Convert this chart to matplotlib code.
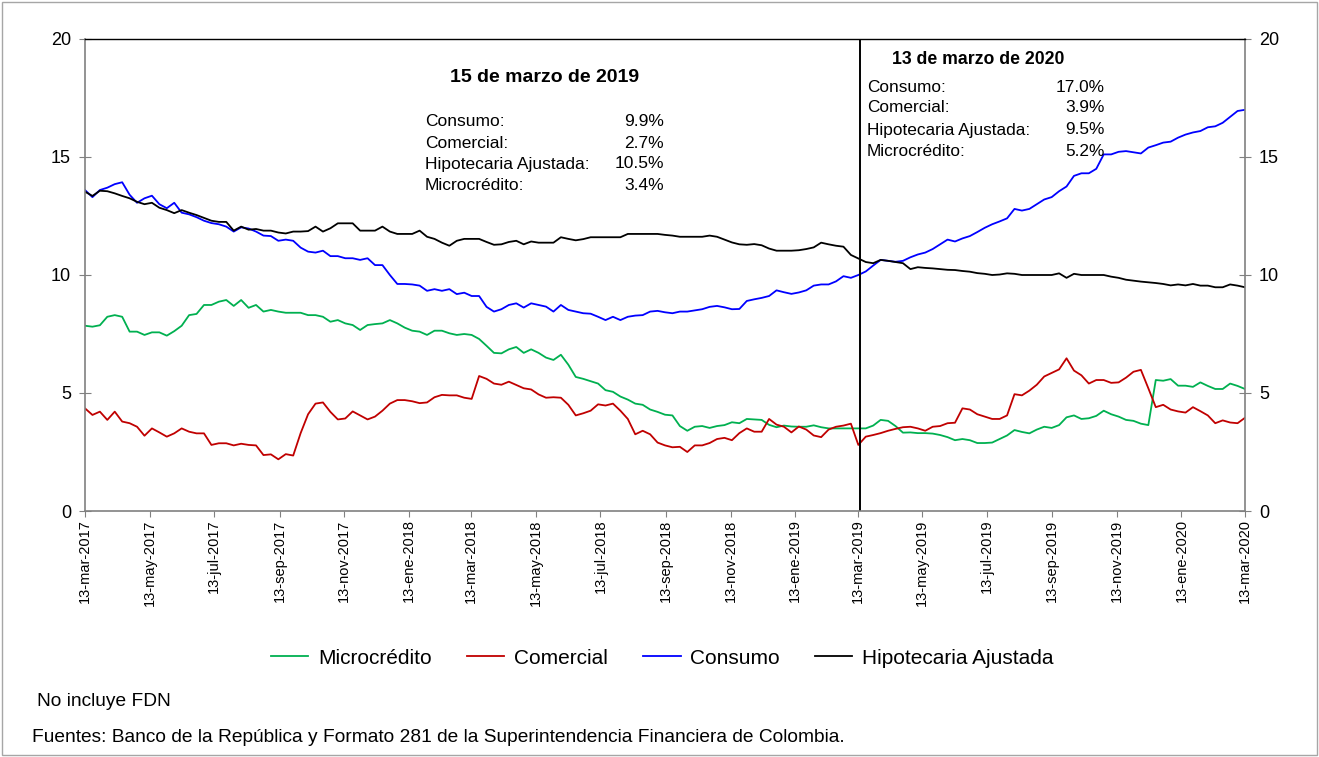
import matplotlib
matplotlib.use("Agg")
import matplotlib.pyplot as plt
from matplotlib.patches import Rectangle
import pandas as pd

plt.rcParams['font.family'] = ['Liberation Sans', 'DejaVu Sans']

# ---------------- data (weekly, 13-mar-2017 .. 13-mar-2020) ----------------
start_date = "2017-03-13"
end_date = "2020-03-13"
n_points = 157

hipotecaria = [
    13.53, 13.35, 13.57, 13.55, 13.46, 13.35, 13.25, 13.1, 13.0, 13.06, 12.85, 12.75, 12.62, 12.75,
    12.64, 12.54, 12.42, 12.3, 12.25, 12.25, 11.88, 12.05, 11.92, 11.95, 11.88, 11.88, 11.8, 11.76,
    11.84, 11.84, 11.86, 12.05, 11.84, 11.98, 12.19, 12.19, 12.19, 11.88, 11.88, 11.88, 12.05, 11.84,
    11.74, 11.74, 11.74, 11.88, 11.62, 11.53, 11.37, 11.24, 11.45, 11.53, 11.53, 11.53,
    11.4, 11.28, 11.3, 11.4, 11.45, 11.3, 11.42, 11.37, 11.37, 11.37, 11.6, 11.53, 11.47, 11.52,
    11.6, 11.6, 11.6, 11.6, 11.6, 11.74, 11.74, 11.74, 11.74, 11.74, 11.7, 11.67,
    11.62, 11.62, 11.62, 11.62, 11.67, 11.62, 11.5, 11.38, 11.3, 11.28, 11.31, 11.26, 11.12, 11.03,
    11.03, 11.03, 11.05, 11.1, 11.17, 11.37, 11.3, 11.24, 11.2, 10.85, 10.7, 10.55, 10.5,
    10.64, 10.6, 10.55, 10.5, 10.25, 10.33, 10.3, 10.28, 10.25, 10.22, 10.21, 10.17, 10.14, 10.08,
    10.05, 10.0, 10.02, 10.07, 10.05, 10.0, 10.0, 10.0, 10.0, 10.0,
    10.07, 9.88, 10.05, 10.0, 10.0, 10.0, 10.0, 9.93, 9.88, 9.8, 9.76, 9.72, 9.69, 9.66,
    9.62, 9.56, 9.6, 9.56, 9.62, 9.55, 9.55, 9.48, 9.48, 9.6, 9.55, 9.48,
]

consumo = [
    13.6, 13.3, 13.6, 13.7, 13.85, 13.93, 13.4, 13.06, 13.25, 13.36, 13.0, 12.83, 13.06, 12.64,
    12.57, 12.45, 12.3, 12.2, 12.15, 12.05, 11.84, 12.02, 11.97, 11.84, 11.67, 11.65, 11.45, 11.5,
    11.45, 11.16, 10.99, 10.95, 11.03, 10.8, 10.8, 10.71, 10.71, 10.64, 10.71, 10.42, 10.42, 10.0,
    9.62, 9.62, 9.6, 9.55, 9.33, 9.4, 9.33, 9.4, 9.19, 9.25, 9.11, 9.11,
    8.65, 8.45, 8.55, 8.73, 8.8, 8.62, 8.8, 8.73, 8.66, 8.45, 8.73, 8.52, 8.45, 8.38,
    8.36, 8.23, 8.09, 8.23, 8.09, 8.23, 8.28, 8.3, 8.45, 8.48, 8.42, 8.38,
    8.45, 8.45, 8.5, 8.55, 8.65, 8.69, 8.63, 8.55, 8.56, 8.9, 8.97, 9.03, 9.11, 9.35,
    9.27, 9.2, 9.26, 9.35, 9.55, 9.6, 9.6, 9.73, 9.95, 9.88, 10.0, 10.15, 10.4,
    10.64, 10.6, 10.56, 10.6, 10.75, 10.87, 10.95, 11.1, 11.3, 11.5, 11.42, 11.55, 11.65, 11.82,
    12.0, 12.15, 12.27, 12.4, 12.8, 12.73, 12.8, 13.0, 13.2, 13.3,
    13.55, 13.75, 14.2, 14.31, 14.31, 14.5, 15.11, 15.11, 15.22, 15.25, 15.2, 15.15, 15.4, 15.5,
    15.61, 15.65, 15.82, 15.95, 16.04, 16.1, 16.26, 16.3, 16.45, 16.7, 16.95, 17.0,
]

microcredito = [
    7.85, 7.81, 7.87, 8.23, 8.3, 8.23, 7.6, 7.6, 7.46, 7.57, 7.57, 7.43, 7.62, 7.85,
    8.3, 8.35, 8.73, 8.73, 8.87, 8.94, 8.69, 8.94, 8.61, 8.73, 8.45, 8.52, 8.45, 8.4,
    8.4, 8.4, 8.3, 8.3, 8.23, 8.02, 8.09, 7.95, 7.88, 7.67, 7.88, 7.92, 7.95, 8.09,
    7.95, 7.77, 7.64, 7.6, 7.46, 7.64, 7.64, 7.53, 7.46, 7.5, 7.46, 7.29,
    7.0, 6.7, 6.68, 6.85, 6.95, 6.7, 6.85, 6.7, 6.5, 6.4, 6.62, 6.2, 5.68, 5.6,
    5.5, 5.4, 5.12, 5.05, 4.85, 4.72, 4.55, 4.5, 4.3, 4.2, 4.08, 4.05,
    3.6, 3.4, 3.57, 3.6, 3.52, 3.6, 3.64, 3.76, 3.72, 3.9, 3.88, 3.86, 3.65, 3.55,
    3.62, 3.58, 3.57, 3.57, 3.63, 3.55, 3.5, 3.5, 3.5, 3.5, 3.5, 3.5, 3.62,
    3.86, 3.82, 3.6, 3.32, 3.33, 3.3, 3.3, 3.28, 3.22, 3.13, 3.0, 3.05, 3.0, 2.88,
    2.88, 2.9, 3.05, 3.2, 3.43, 3.35, 3.29, 3.45, 3.57, 3.52,
    3.64, 3.97, 4.05, 3.9, 3.93, 4.03, 4.25, 4.1, 4.0, 3.86, 3.82, 3.7, 3.64, 5.55,
    5.52, 5.59, 5.31, 5.31, 5.26, 5.45, 5.3, 5.17, 5.17, 5.4, 5.3, 5.17,
]

comercial = [
    4.35, 4.07, 4.21, 3.86, 4.21, 3.79, 3.72, 3.57, 3.19, 3.5, 3.33, 3.15, 3.29, 3.5,
    3.36, 3.29, 3.29, 2.8, 2.87, 2.87, 2.78, 2.85, 2.8, 2.78, 2.37, 2.4, 2.19, 2.41,
    2.35, 3.3, 4.1, 4.55, 4.6, 4.2, 3.88, 3.92, 4.22, 4.05, 3.88, 4.0, 4.25, 4.55,
    4.7, 4.7, 4.65, 4.57, 4.6, 4.82, 4.92, 4.9, 4.9, 4.8, 4.75, 5.72,
    5.6, 5.4, 5.35, 5.48, 5.34, 5.2, 5.15, 4.94, 4.8, 4.82, 4.8, 4.5, 4.05, 4.14,
    4.25, 4.52, 4.47, 4.55, 4.25, 3.9, 3.25, 3.4, 3.25, 2.9, 2.78, 2.7,
    2.72, 2.5, 2.78, 2.78, 2.88, 3.05, 3.1, 3.0, 3.3, 3.5, 3.36, 3.36, 3.9, 3.66,
    3.57, 3.33, 3.58, 3.45, 3.2, 3.13, 3.45, 3.57, 3.62, 3.7, 2.8, 3.15, 3.22,
    3.3, 3.4, 3.48, 3.55, 3.57, 3.5, 3.4, 3.57, 3.6, 3.72, 3.74, 4.35, 4.3, 4.1,
    4.0, 3.9, 3.9, 4.05, 4.95, 4.9, 5.1, 5.35, 5.7, 5.85,
    6.0, 6.47, 5.95, 5.75, 5.4, 5.55, 5.55, 5.43, 5.45, 5.65, 5.9, 5.98, 5.2, 4.4,
    4.5, 4.3, 4.22, 4.17, 4.4, 4.23, 4.05, 3.72, 3.84, 3.75, 3.72, 3.95,
]

series_names = ["Microcrédito", "Comercial", "Consumo", "Hipotecaria Ajustada"]
series_colors = ["#00B050", "#C00000", "#0000FF", "#000000"]

tick_dates = ["2017-03-13", "2017-05-13", "2017-07-13", "2017-09-13", "2017-11-13",
              "2018-01-13", "2018-03-13", "2018-05-13", "2018-07-13", "2018-09-13",
              "2018-11-13", "2019-01-13", "2019-03-13", "2019-05-13", "2019-07-13",
              "2019-09-13", "2019-11-13", "2020-01-13", "2020-03-13"]
tick_labels = ["13-mar-2017", "13-may-2017", "13-jul-2017", "13-sep-2017", "13-nov-2017",
               "13-ene-2018", "13-mar-2018", "13-may-2018", "13-jul-2018", "13-sep-2018",
               "13-nov-2018", "13-ene-2019", "13-mar-2019", "13-may-2019", "13-jul-2019",
               "13-sep-2019", "13-nov-2019", "13-ene-2020", "13-mar-2020"]
y_ticks = [0, 5, 10, 15, 20]

marker_date = "2019-03-15"
box1_title = "15 de marzo de 2019"
box1_values = ["9.9%", "2.7%", "10.5%", "3.4%"]
box2_title = "13 de marzo de 2020"
box2_values = ["17.0%", "3.9%", "9.5%", "5.2%"]
box_labels = ["Consumo:", "Comercial:", "Hipotecaria Ajustada:", "Microcrédito:"]

# ---------------- figure ----------------
dates = pd.date_range(start_date, end_date, periods=n_points)

fig = plt.figure(figsize=(13.19, 7.57), dpi=100)
fig.patches.append(Rectangle((0.0015, 0.002), 0.997, 0.996, transform=fig.transFigure,
                             fill=False, edgecolor="#A6A6A6", linewidth=1.0))

ax = fig.add_axes([85 / 1319, 1 - 511 / 757, (1245 - 85) / 1319, (511 - 39) / 757])

values = [microcredito, comercial, consumo, hipotecaria]
for name, col, vals in zip(series_names, series_colors, values):
    ax.plot(dates, vals, color=col, linewidth=1.3, label=name)

ax.axvline(pd.Timestamp(marker_date), color="black", linewidth=1.4)

ax.set_xlim(pd.Timestamp(start_date), pd.Timestamp(end_date))
ax.set_ylim(0, 20)
ax.set_yticks(y_ticks)
ax.set_xticks([pd.Timestamp(d) for d in tick_dates])
ax.set_xticklabels(tick_labels, rotation=90, fontsize=10.5)

ax.tick_params(axis="y", which="both", direction="inout", length=8, color="#808080",
               labelsize=13, left=True, right=True, labelleft=True, labelright=True, pad=6)
ax.tick_params(axis="x", direction="out", length=4, color="#808080", pad=2)

for side in ["left", "right", "bottom"]:
    ax.spines[side].set_color("#808080")
    ax.spines[side].set_linewidth(1.2)
ax.spines["top"].set_color("black")
ax.spines["top"].set_linewidth(1.0)

# annotation box 1
fig.text(545 / 1319, 1 - 78 / 757, box1_title, fontsize=14, fontweight="bold",
         ha="center", va="center")
ys1 = [122, 143, 164, 185]
for lab, val, yy in zip(box_labels, box1_values, ys1):
    fig.text(425 / 1319, 1 - yy / 757, lab, fontsize=12.5, ha="left", va="center")
    fig.text(664 / 1319, 1 - yy / 757, val, fontsize=12.5, ha="right", va="center")

# annotation box 2
fig.text(978 / 1319, 1 - 59 / 757, box2_title, fontsize=12.7, fontweight="bold",
         ha="center", va="center")
ys2 = [88, 108, 130, 151]
for lab, val, yy in zip(box_labels, box2_values, ys2):
    fig.text(867 / 1319, 1 - yy / 757, lab, fontsize=12.4, ha="left", va="center")
    fig.text(1105 / 1319, 1 - yy / 757, val, fontsize=12.4, ha="right", va="center")

# legend
fig.legend(loc="center", bbox_to_anchor=(0.502, 1 - 658 / 757), ncol=4, frameon=False,
           fontsize=15, handlelength=1.8, handletextpad=0.45, columnspacing=1.7)

fig.text(37 / 1319, 1 - 702 / 757, "No incluye FDN", fontsize=13.8, ha="left", va="center")
fig.text(32 / 1319, 1 - 737 / 757,
         "Fuentes: Banco de la República y Formato 281 de la Superintendencia Financiera de Colombia.",
         fontsize=13.8, ha="left", va="center")

fig.savefig("out.png", dpi=100)
